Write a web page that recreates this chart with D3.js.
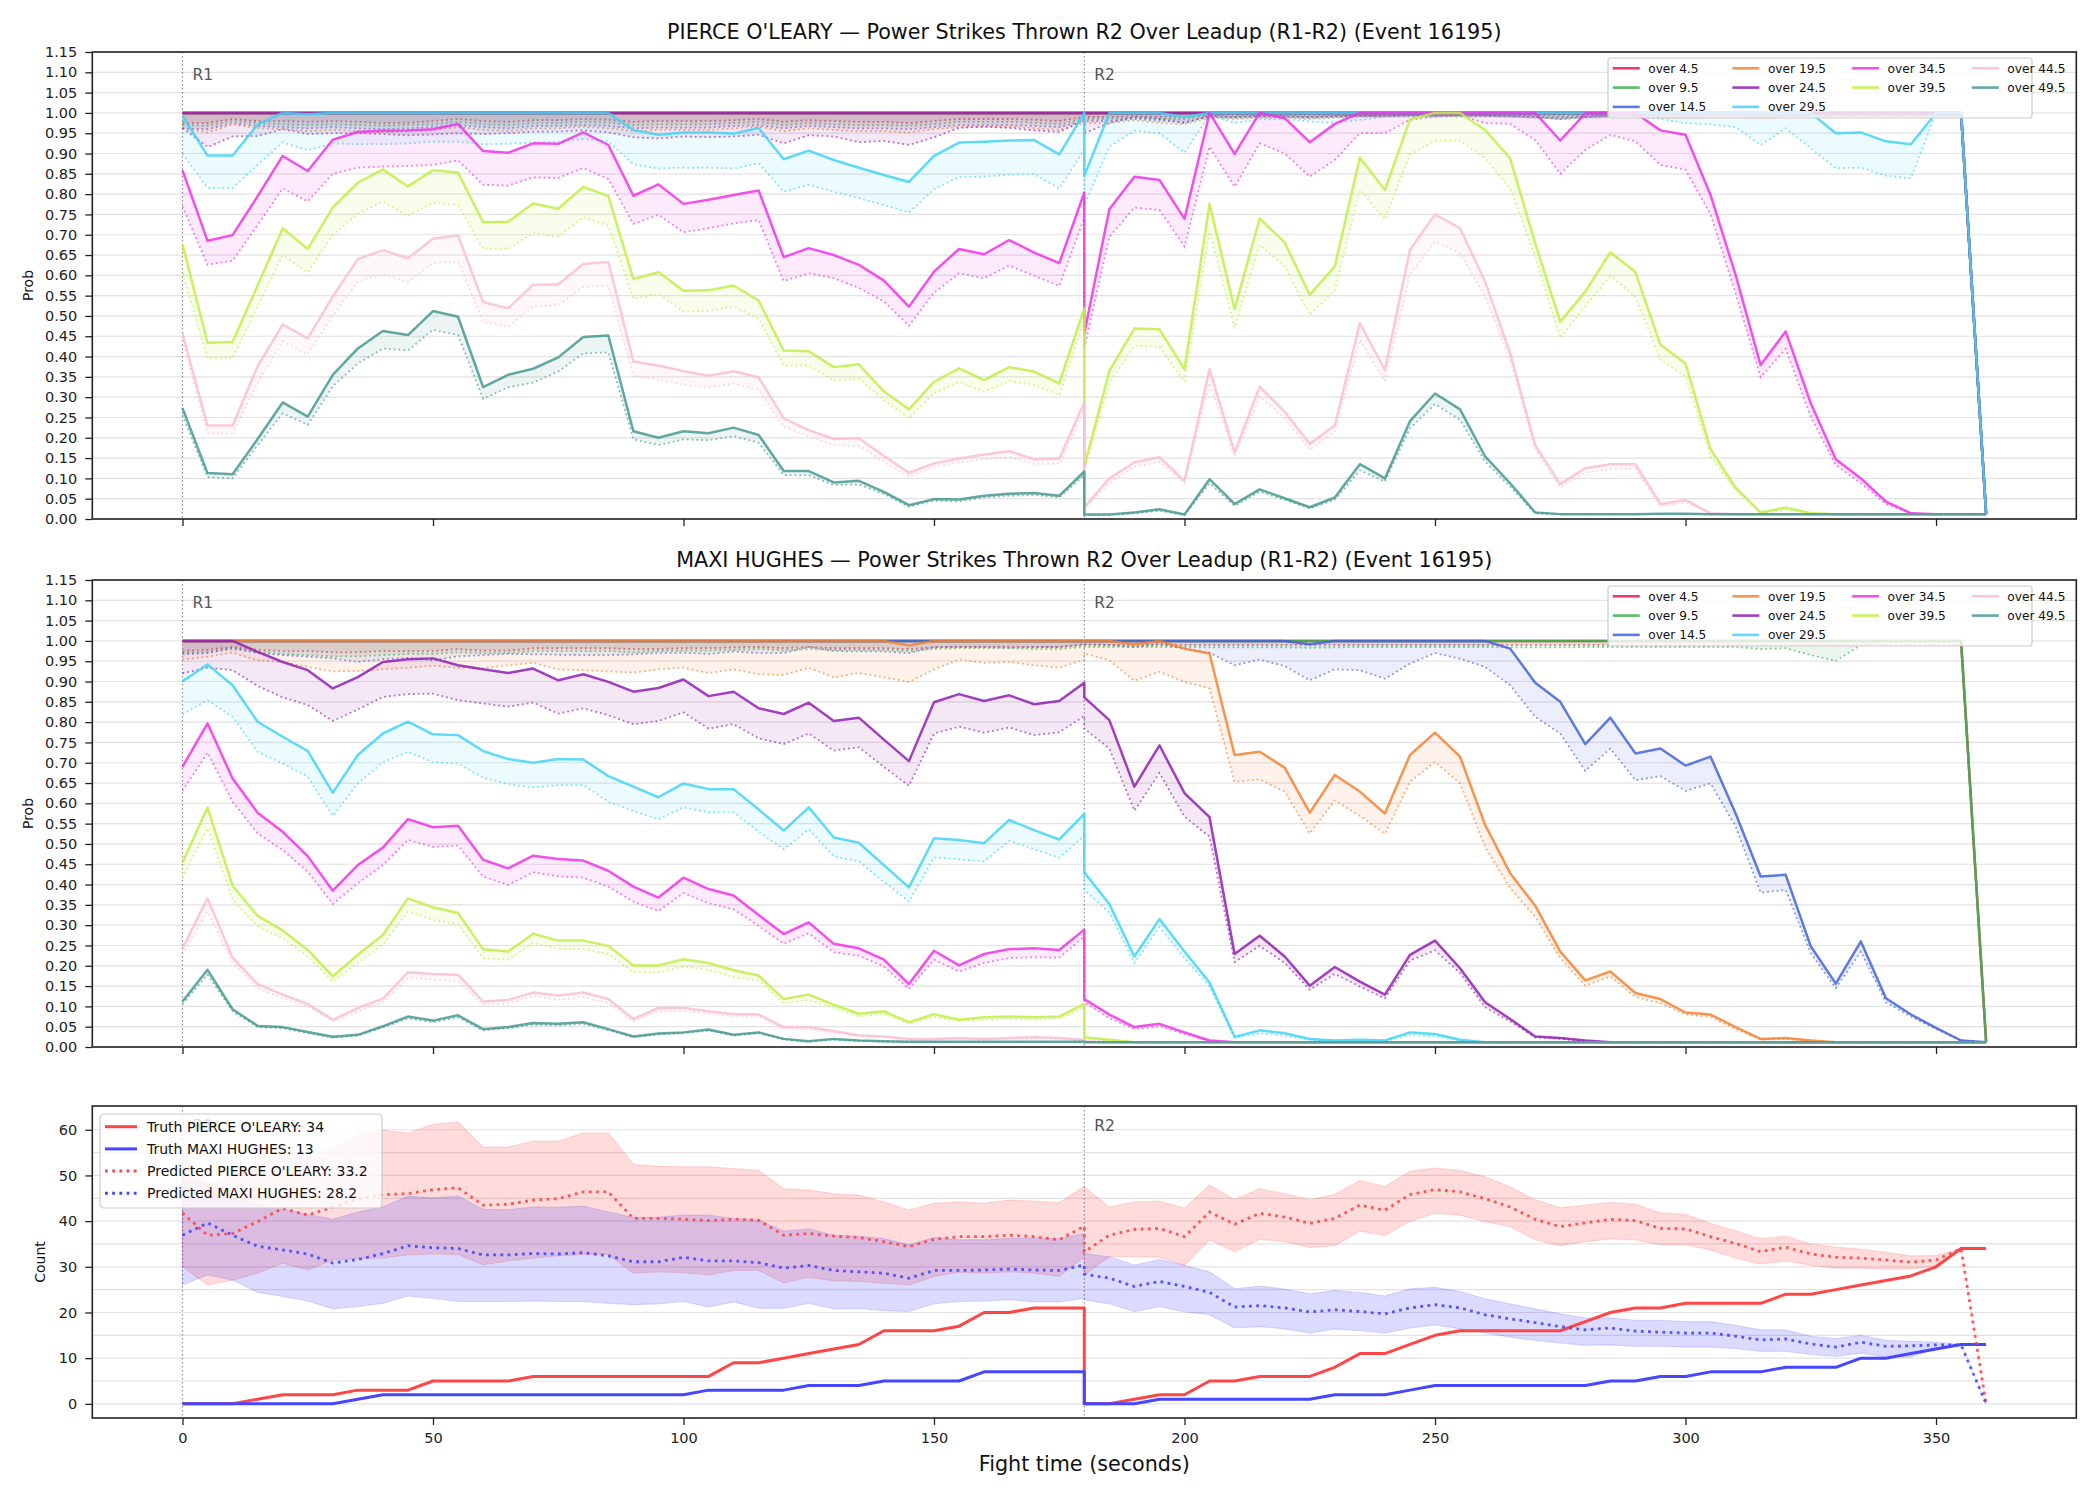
<!DOCTYPE html>
<html>
<head>
<meta charset="utf-8">
<script src="https://cdn.jsdelivr.net/npm/d3@7"></script>
<style>
  body { margin: 0; background: #fff; }
  svg { font-family: 'DejaVu Sans', sans-serif; }
</style>
</head>
<body>
<div id="chart"></div>
<script>
// time grid: R1 0..180 then R2 180..360, 5 s steps (180 appears twice)
const timesR1 = d3.range(0, 185, 5)
const timesR2 = d3.range(180, 365, 5)
const times = timesR1.concat(timesR2)

const thresholds = ['over 4.5', 'over 9.5', 'over 14.5', 'over 19.5', 'over 24.5',
  'over 29.5', 'over 34.5', 'over 39.5', 'over 44.5', 'over 49.5']
const seriesColors = ['#e6194b', '#3cb44b', '#4363d8', '#f58231', '#911eb4',
  '#42d4f4', '#f032e6', '#bfef45', '#fabed4', '#469990']

const probTicks = [0, 0.05, 0.1, 0.15, 0.2, 0.25, 0.3, 0.35, 0.4, 0.45, 0.5, 0.55,
  0.6, 0.65, 0.7, 0.75, 0.8, 0.85, 0.9, 0.95, 1, 1.05, 1.1, 1.15]
const timeTicks = [0, 50, 100, 150, 200, 250, 300, 350]
const countTicks = [0, 10, 20, 30, 40, 50, 60]
const countGrid = [0, 5, 10, 15, 20, 25, 30, 35, 40, 45, 50, 55, 60]

// ---------- PIERCE O'LEARY : truth-path probabilities (solid) ----------
const pOver4 = [1,1,1,1,1, 1,1,1,1,1, 1,1,1,1,1, 1,1,1,1,1, 1,1,1,1,1, 1,1,1,1,1, 1,1,1,1,1, 1,1,
  1,1,1,1,1, 1,1,1,1,1, 1,1,1,1,1, 1,1,1,1,1, 1,1,1,1,1, 1,1,1,1,1, 1,1,1,1,1, 1,0.012]
const pOver9 = [1,1,1,1,1, 1,1,1,1,1, 1,1,1,1,1, 1,1,1,1,1, 1,1,1,1,1, 1,1,1,1,1, 1,1,1,1,1, 1,1,
  1,1,1,1,1, 1,1,1,1,1, 1,1,1,1,1, 1,1,1,1,1, 1,1,1,1,1, 1,1,1,1,1, 1,1,1,1,1, 1,0.012]
const pOver14 = [1,1,1,1,1, 1,1,1,1,1, 1,1,1,1,1, 1,1,1,1,1, 1,1,1,1,1, 1,1,1,1,1, 1,1,1,1,1, 1,1,
  1,1,1,1,1, 1,1,1,1,1, 1,1,1,1,1, 1,1,1,1,1, 1,1,1,1,1, 1,1,1,1,1, 1,1,1,1,1, 1,0.012]
const pOver19 = [1,1,1,1,1, 1,1,1,1,1, 1,1,1,1,1, 1,1,1,1,1, 1,1,1,1,1, 1,1,1,1,1, 1,1,1,1,1, 1,1,
  1,1,1,1,1, 1,1,1,1,1, 1,1,1,1,1, 1,1,1,1,1, 1,1,1,1,1, 1,1,1,1,1, 1,1,1,1,1, 1,0.012]
const pOver24 = [1,1,1,1,1, 1,1,1,1,1, 1,1,1,1,1, 1,1,1,1,1, 1,1,1,1,1, 1,1,1,1,1, 1,1,1,1,1, 1,1,
  1,1,1,1,1, 1,1,1,1,1, 1,1,1,1,1, 1,1,1,1,1, 1,1,1,1,1, 1,1,1,1,1, 1,1,1,1,1, 1,0.012]
const pOver29 = [0.993,0.895,0.895,0.971,1, 0.997,1,1,1,1, 1,1,1,1,1, 1,1,1,0.958,0.946, 0.952,0.952,0.949,0.963,0.886, 0.907,0.884,0.865,0.847,0.83, 0.894,0.927,0.929,0.932,0.933, 0.898,1,
  0.845,1,1,1,0.99, 1,1,1,1,1, 1,1,1,1,1, 1,1,1,1,1, 1,1,1,1,1, 1,1,1,1,1, 0.95,0.952,0.93,0.923,1, 1,0.012]
const pOver34 = [0.859,0.685,0.699,0.795,0.894, 0.857,0.934,0.953,0.956,0.957, 0.96,0.973,0.906,0.902,0.925, 0.924,0.952,0.921,0.796,0.824, 0.776,0.786,0.798,0.809,0.645, 0.667,0.65,0.626,0.587,0.523, 0.609,0.665,0.652,0.687,0.656, 0.63,0.804,
  0.457,0.763,0.843,0.835,0.739, 1,0.899,1,0.987,0.928, 0.973,1,1,1,1, 1,1,1,1,0.932, 0.999,1,1,0.957,0.946, 0.798,0.601,0.379,0.462,0.285, 0.147,0.1,0.043,0.014,0.012, 0.012,0.012]
const pOver39 = [0.677,0.434,0.436,0.575,0.716, 0.665,0.767,0.828,0.861,0.819, 0.859,0.853,0.731,0.732,0.777, 0.764,0.818,0.795,0.591,0.608, 0.562,0.563,0.575,0.538,0.415, 0.413,0.374,0.381,0.314,0.27, 0.338,0.371,0.342,0.374,0.363, 0.334,0.519,
  0.129,0.365,0.469,0.467,0.369, 0.776,0.517,0.74,0.681,0.552, 0.622,0.89,0.81,0.984,1, 1,0.958,0.888,0.679,0.486, 0.56,0.657,0.608,0.429,0.383, 0.172,0.077,0.016,0.028,0.014, 0.012,0.012,0.012,0.012,0.012, 0.012,0.012]
const pOver44 = [0.457,0.23,0.23,0.376,0.479, 0.445,0.548,0.64,0.662,0.642, 0.69,0.698,0.534,0.519,0.577, 0.578,0.628,0.633,0.388,0.378, 0.364,0.353,0.364,0.349,0.248, 0.219,0.197,0.199,0.155,0.114, 0.137,0.149,0.159,0.167,0.147, 0.149,0.287,
  0.029,0.1,0.139,0.152,0.094, 0.369,0.164,0.326,0.264,0.185, 0.23,0.482,0.367,0.663,0.75, 0.716,0.585,0.408,0.182,0.086, 0.125,0.135,0.135,0.037,0.047, 0.014,0.012,0.012,0.012,0.012, 0.012,0.012,0.012,0.012,0.012, 0.012,0.012]
const pOver49 = [0.273,0.113,0.11,0.197,0.287, 0.252,0.355,0.42,0.463,0.453, 0.512,0.498,0.325,0.355,0.37, 0.398,0.448,0.452,0.216,0.2, 0.216,0.211,0.225,0.207,0.118, 0.118,0.09,0.094,0.067,0.034, 0.049,0.048,0.057,0.062,0.064, 0.057,0.117,
  0.011,0.011,0.016,0.024,0.011, 0.098,0.037,0.073,0.051,0.029, 0.053,0.135,0.1,0.241,0.309, 0.27,0.154,0.088,0.016,0.012, 0.012,0.012,0.012,0.013,0.013, 0.012,0.012,0.012,0.012,0.012, 0.012,0.012,0.012,0.012,0.012, 0.012,0.012]

// ---------- PIERCE O'LEARY : predicted probabilities (dotted) ----------
const pPred4 = [0.975,0.975,0.985,0.98,0.98, 0.978,0.98,0.978,0.975,0.976, 0.98,0.985,0.98,0.978,0.982, 0.982,0.985,0.983,0.978,0.98, 0.98,0.98,0.982,0.985,0.978, 0.982,0.98,0.978,0.978,0.975, 0.98,0.985,0.985,0.985,0.983, 0.98,0.99,
  0.99,0.99,0.992,0.99,0.99, 0.995,0.995,0.995,0.995,0.995, 0.995,0.995,0.995,0.995,0.995, 0.995,0.995,0.995,0.995,0.995, 0.995,0.995,0.995,0.995,0.995, 0.995,0.995,0.995,0.995,0.995, 0.995,0.995,0.995,0.995,0.995, 0.995,0.012]
const pPred9 = [0.97,0.968,0.98,0.975,0.972, 0.97,0.972,0.97,0.968,0.97, 0.972,0.978,0.972,0.97,0.975, 0.975,0.978,0.976,0.97,0.972, 0.972,0.972,0.975,0.978,0.97, 0.975,0.972,0.97,0.97,0.968, 0.972,0.978,0.978,0.978,0.976, 0.972,0.985,
  0.985,0.985,0.988,0.985,0.985, 0.992,0.99,0.992,0.992,0.99, 0.992,0.993,0.993,0.994,0.994, 0.994,0.994,0.993,0.992,0.99, 0.992,0.993,0.993,0.992,0.992, 0.993,0.993,0.992,0.993,0.993, 0.993,0.993,0.993,0.993,0.994, 0.994,0.012]
const pPred14 = [0.962,0.96,0.975,0.968,0.965, 0.962,0.965,0.962,0.96,0.962, 0.965,0.97,0.965,0.962,0.968, 0.968,0.97,0.968,0.962,0.964, 0.964,0.964,0.968,0.97,0.962, 0.968,0.965,0.962,0.962,0.96, 0.965,0.97,0.97,0.97,0.968, 0.965,0.98,
  0.98,0.98,0.985,0.98,0.978, 0.99,0.988,0.99,0.99,0.988, 0.99,0.992,0.992,0.993,0.993, 0.993,0.993,0.992,0.99,0.988, 0.99,0.992,0.992,0.99,0.99, 0.992,0.992,0.99,0.992,0.992, 0.992,0.992,0.992,0.992,0.993, 0.993,0.012]
const pPred19 = [0.962,0.952,0.972,0.962,0.96, 0.955,0.958,0.955,0.952,0.955, 0.958,0.965,0.958,0.955,0.962, 0.962,0.966,0.962,0.955,0.958, 0.958,0.958,0.962,0.966,0.955, 0.962,0.958,0.955,0.955,0.952, 0.96,0.965,0.966,0.966,0.962, 0.958,0.975,
  0.975,0.975,0.982,0.975,0.972, 0.988,0.985,0.988,0.988,0.985, 0.988,0.99,0.99,0.992,0.992, 0.992,0.992,0.99,0.988,0.985, 0.988,0.99,0.99,0.988,0.988, 0.99,0.99,0.988,0.99,0.99, 0.99,0.99,0.99,0.99,0.992, 0.992,0.012]
const pPred24 = [0.963,0.916,0.942,0.943,0.96, 0.948,0.95,0.95,0.948,0.945, 0.947,0.95,0.948,0.95,0.954, 0.954,0.957,0.952,0.94,0.937, 0.942,0.94,0.942,0.946,0.925, 0.945,0.942,0.928,0.931,0.921, 0.94,0.963,0.966,0.963,0.957, 0.953,0.983,
  0.95,0.975,0.99,0.985,0.975, 0.993,0.99,0.993,0.992,0.99, 0.992,0.993,0.993,0.994,0.994, 0.994,0.993,0.992,0.99,0.985, 0.99,0.992,0.992,0.99,0.99, 0.99,0.99,0.99,0.992,0.992, 0.992,0.992,0.992,0.992,0.993, 0.993,0.012]
const pPred29 = [0.9,0.815,0.815,0.872,0.927, 0.908,0.925,0.923,0.923,0.925, 0.929,0.929,0.923,0.924,0.927, 0.929,0.936,0.93,0.873,0.863, 0.865,0.865,0.863,0.876,0.806, 0.823,0.806,0.79,0.773,0.755, 0.812,0.842,0.843,0.848,0.849, 0.814,0.909,
  0.773,0.917,0.956,0.95,0.902, 0.995,0.975,0.984,0.984,0.979, 0.975,0.983,0.99,0.99,0.99, 0.99,0.99,0.99,0.988,0.985, 0.988,0.99,0.99,0.985,0.975, 0.972,0.965,0.921,0.962,0.913, 0.864,0.865,0.845,0.839,1, 1,0.012]
const pPred34 = [0.77,0.626,0.636,0.724,0.814, 0.782,0.85,0.865,0.868,0.869, 0.872,0.883,0.823,0.821,0.841, 0.84,0.864,0.837,0.727,0.749, 0.706,0.716,0.728,0.736,0.586, 0.605,0.593,0.569,0.536,0.476, 0.557,0.605,0.593,0.624,0.599, 0.574,0.741,
  0.42,0.695,0.767,0.761,0.671, 0.917,0.818,0.925,0.9,0.843, 0.884,0.95,0.95,0.983,0.99, 0.995,0.975,0.973,0.933,0.85, 0.909,0.946,0.93,0.872,0.86, 0.75,0.556,0.349,0.419,0.252, 0.133,0.088,0.037,0.014,0.012, 0.012,0.012]
const pPred39 = [0.605,0.396,0.396,0.523,0.649, 0.607,0.7,0.751,0.782,0.746, 0.779,0.773,0.665,0.665,0.705, 0.695,0.743,0.722,0.542,0.554, 0.511,0.512,0.523,0.493,0.378, 0.378,0.34,0.346,0.293,0.248, 0.31,0.338,0.313,0.34,0.33, 0.305,0.49,
  0.121,0.334,0.427,0.424,0.338, 0.708,0.471,0.675,0.622,0.502, 0.564,0.81,0.738,0.897,0.932, 0.932,0.888,0.814,0.646,0.445, 0.524,0.598,0.548,0.392,0.351, 0.154,0.071,0.014,0.022,0.014, 0.012,0.012,0.012,0.012,0.012, 0.012,0.012]
const pPred44 = [0.44,0.211,0.211,0.335,0.437, 0.406,0.499,0.585,0.602,0.584, 0.63,0.634,0.486,0.473,0.524, 0.526,0.571,0.575,0.352,0.343, 0.331,0.323,0.333,0.318,0.227, 0.203,0.182,0.18,0.141,0.104, 0.129,0.139,0.147,0.152,0.136, 0.136,0.268,
  0.026,0.088,0.129,0.14,0.088, 0.335,0.154,0.301,0.248,0.17, 0.215,0.441,0.339,0.602,0.684, 0.654,0.548,0.392,0.17,0.078, 0.114,0.123,0.123,0.032,0.04, 0.014,0.012,0.012,0.012,0.012, 0.012,0.012,0.012,0.012,0.012, 0.012,0.012]
const pPred49 = [0.256,0.103,0.1,0.182,0.26, 0.232,0.327,0.383,0.42,0.415, 0.466,0.453,0.296,0.324,0.336, 0.363,0.408,0.41,0.196,0.182, 0.196,0.194,0.204,0.188,0.108, 0.108,0.084,0.085,0.062,0.03, 0.045,0.043,0.053,0.057,0.059, 0.053,0.108,
  0.01,0.01,0.014,0.02,0.01, 0.088,0.032,0.067,0.047,0.026, 0.047,0.12,0.092,0.223,0.283, 0.244,0.141,0.08,0.014,0.012, 0.012,0.012,0.012,0.012,0.012, 0.012,0.012,0.012,0.012,0.012, 0.012,0.012,0.012,0.012,0.012, 0.012,0.012]

// ---------- MAXI HUGHES : truth-path probabilities (solid) ----------
const mOver4 = [1,1,1,1,1, 1,1,1,1,1, 1,1,1,1,1, 1,1,1,1,1, 1,1,1,1,1, 1,1,1,1,1, 1,1,1,1,1, 1,1,
  1,1,1,1,1, 1,1,1,1,1, 1,1,1,1,1, 1,1,1,1,1, 1,1,1,1,1, 1,1,1,1,1, 1,1,1,1,1, 1,0.012]
const mOver9 = [1,1,1,1,1, 1,1,1,1,1, 1,1,1,1,1, 1,1,1,1,1, 1,1,1,1,1, 1,1,1,1,1, 1,1,1,1,1, 1,1,
  1,1,1,1,1, 1,1,1,1,1, 1,1,1,1,1, 1,1,1,1,1, 1,1,1,1,1, 1,1,1,1,1, 1,1,1,1,1, 1,0.012]
const mOver14 = [1,1,1,1,1, 1,1,1,1,1, 1,1,1,1,1, 1,1,1,1,1, 1,1,1,1,1, 1,1,1,1,1, 1,1,1,1,1, 1,1,
  1,1,1,1,1, 1,1,1,1,0.992, 1,1,1,1,1, 1,1,0.981,0.897,0.85, 0.746,0.811,0.723,0.735,0.693, 0.715,0.575,0.42,0.424,0.248, 0.156,0.26,0.12,0.08,0.047, 0.016,0.012]
const mOver19 = [1,1,1,1,1, 1,1,1,1,1, 1,1,1,1,1, 1,1,1,1,1, 1,1,1,1,1, 1,1,1,1,0.989, 1,1,1,1,1, 1,1,
  1,1,0.992,1,0.981, 0.969,0.719,0.727,0.688,0.577, 0.67,0.629,0.575,0.719,0.774, 0.715,0.547,0.428,0.348,0.235, 0.164,0.186,0.133,0.118,0.085, 0.08,0.049,0.02,0.022,0.016, 0.012,0.012,0.012,0.012,0.012, 0.012,0.012]
const mOver24 = [1,1,1,0.973,0.948, 0.928,0.883,0.911,0.948,0.955, 0.957,0.94,0.93,0.921,0.932, 0.903,0.918,0.899,0.875,0.884, 0.905,0.864,0.875,0.834,0.82, 0.848,0.803,0.811,0.757,0.704, 0.849,0.869,0.852,0.866,0.844, 0.852,0.897,
  0.861,0.805,0.641,0.743,0.625, 0.566,0.229,0.274,0.223,0.151, 0.197,0.161,0.129,0.227,0.262, 0.194,0.11,0.069,0.026,0.022, 0.016,0.012,0.012,0.012,0.012, 0.012,0.012,0.012,0.012,0.012, 0.012,0.012,0.012,0.012,0.012, 0.012,0.012]
const mOver29 = [0.901,0.942,0.891,0.801,0.764, 0.729,0.626,0.719,0.772,0.801, 0.77,0.768,0.729,0.709,0.7, 0.709,0.708,0.667,0.641,0.615, 0.649,0.635,0.635,0.585,0.533, 0.59,0.516,0.503,0.448,0.393, 0.514,0.51,0.502,0.559,0.534, 0.511,0.574,
  0.43,0.352,0.223,0.315,0.235, 0.159,0.025,0.041,0.034,0.02, 0.016,0.018,0.016,0.036,0.032, 0.018,0.012,0.012,0.012,0.012, 0.012,0.012,0.012,0.012,0.012, 0.012,0.012,0.012,0.012,0.012, 0.012,0.012,0.012,0.012,0.012, 0.012,0.012]
const mOver34 = [0.69,0.797,0.661,0.577,0.53, 0.47,0.385,0.448,0.491,0.561, 0.541,0.545,0.461,0.44,0.471, 0.463,0.459,0.434,0.395,0.368, 0.417,0.389,0.373,0.325,0.278, 0.307,0.254,0.243,0.215,0.155, 0.237,0.201,0.229,0.241,0.243, 0.239,0.289,
  0.118,0.08,0.049,0.057,0.036, 0.016,0.012,0.012,0.012,0.012, 0.012,0.012,0.012,0.012,0.012, 0.012,0.012,0.012,0.012,0.012, 0.012,0.012,0.012,0.012,0.012, 0.012,0.012,0.012,0.012,0.012, 0.012,0.012,0.012,0.012,0.012, 0.012,0.012]
const mOver39 = [0.454,0.59,0.397,0.323,0.287, 0.239,0.174,0.227,0.276,0.366, 0.344,0.33,0.241,0.235,0.279, 0.262,0.262,0.249,0.201,0.201, 0.216,0.207,0.189,0.176,0.118, 0.129,0.104,0.082,0.088,0.061, 0.081,0.067,0.073,0.075,0.073, 0.075,0.106,
  0.024,0.018,0.012,0.012,0.012, 0.012,0.012,0.012,0.012,0.012, 0.012,0.012,0.012,0.012,0.012, 0.012,0.012,0.012,0.012,0.012, 0.012,0.012,0.012,0.012,0.012, 0.012,0.012,0.012,0.012,0.012, 0.012,0.012,0.012,0.012,0.012, 0.012,0.012]
const mOver44 = [0.243,0.366,0.22,0.155,0.129, 0.106,0.067,0.096,0.119,0.184, 0.18,0.178,0.112,0.116,0.134, 0.127,0.134,0.118,0.069,0.096, 0.096,0.088,0.081,0.08,0.049, 0.049,0.039,0.029,0.026,0.02, 0.02,0.022,0.02,0.022,0.024, 0.022,0.018,
  0.014,0.012,0.012,0.012,0.012, 0.012,0.012,0.012,0.012,0.012, 0.012,0.012,0.012,0.012,0.012, 0.012,0.012,0.012,0.012,0.012, 0.012,0.012,0.012,0.012,0.012, 0.012,0.012,0.012,0.012,0.012, 0.012,0.012,0.012,0.012,0.012, 0.012,0.012]
const mOver49 = [0.112,0.19,0.093,0.052,0.049, 0.037,0.025,0.03,0.051,0.075, 0.065,0.078,0.044,0.049,0.059, 0.057,0.061,0.044,0.026,0.033, 0.036,0.043,0.03,0.036,0.02, 0.014,0.02,0.016,0.014,0.013, 0.013,0.013,0.013,0.013,0.013, 0.013,0.013,
  0.012,0.012,0.012,0.012,0.012, 0.012,0.012,0.012,0.012,0.012, 0.012,0.012,0.012,0.012,0.012, 0.012,0.012,0.012,0.012,0.012, 0.012,0.012,0.012,0.012,0.012, 0.012,0.012,0.012,0.012,0.012, 0.012,0.012,0.012,0.012,0.012, 0.012,0.012]

// ---------- MAXI HUGHES : predicted probabilities (dotted) ----------
const mPred4 = [0.975,0.978,0.985,0.978,0.975, 0.975,0.972,0.972,0.975,0.975, 0.975,0.98,0.976,0.976,0.982, 0.982,0.982,0.982,0.98,0.98, 0.982,0.982,0.984,0.985,0.982, 0.985,0.982,0.982,0.982,0.98, 0.984,0.986,0.986,0.986,0.985, 0.985,0.99,
  0.99,0.99,0.99,0.99,0.99, 0.99,0.99,0.99,0.99,0.99, 0.99,0.99,0.99,0.99,0.99, 0.99,0.99,0.99,0.99,0.99, 0.99,0.99,0.99,0.99,0.99, 0.99,0.99,0.99,0.99,0.99, 0.99,0.99,0.99,0.99,0.99, 0.99,0.012]
const mPred9 = [0.97,0.972,0.98,0.972,0.968, 0.965,0.962,0.962,0.965,0.968, 0.968,0.972,0.97,0.97,0.975, 0.975,0.975,0.975,0.972,0.975, 0.976,0.976,0.978,0.98,0.976, 0.98,0.978,0.978,0.978,0.975, 0.98,0.982,0.982,0.982,0.98, 0.98,0.985,
  0.985,0.985,0.985,0.985,0.985, 0.984,0.984,0.984,0.984,0.983, 0.984,0.985,0.985,0.985,0.985, 0.985,0.985,0.984,0.984,0.984, 0.985,0.985,0.985,0.985,0.985, 0.985,0.985,0.98,0.982,0.965, 0.951,0.99,1,1,1, 1,0.012]
const mPred14 = [0.967,0.97,0.983,0.97,0.965, 0.961,0.957,0.948,0.955,0.958, 0.952,0.962,0.965,0.968,0.967, 0.966,0.965,0.965,0.967,0.97, 0.971,0.968,0.974,0.97,0.97, 0.985,0.975,0.974,0.974,0.97, 0.985,0.985,0.985,0.983,0.985, 0.985,0.993,
  0.992,0.99,0.985,0.993,0.98, 0.971,0.94,0.954,0.938,0.903, 0.93,0.928,0.907,0.944,0.97, 0.956,0.936,0.891,0.813,0.772, 0.68,0.735,0.657,0.667,0.631, 0.649,0.543,0.38,0.387,0.231, 0.145,0.235,0.11,0.075,0.044, 0.016,0.012]
const mPred19 = [0.954,0.961,0.971,0.952,0.948, 0.936,0.925,0.926,0.93,0.934, 0.939,0.934,0.933,0.94,0.946, 0.93,0.928,0.925,0.922,0.93, 0.934,0.921,0.93,0.918,0.916, 0.934,0.91,0.921,0.91,0.899, 0.93,0.954,0.946,0.948,0.94, 0.934,0.954,
  0.969,0.952,0.902,0.924,0.899, 0.883,0.653,0.659,0.629,0.526, 0.607,0.569,0.525,0.653,0.702, 0.649,0.493,0.391,0.321,0.219, 0.151,0.174,0.123,0.108,0.08, 0.074,0.044,0.018,0.02,0.014, 0.012,0.012,0.012,0.012,0.012, 0.012,0.012]
const mPred24 = [0.92,0.934,0.928,0.889,0.861, 0.842,0.803,0.831,0.862,0.869, 0.87,0.854,0.846,0.838,0.848, 0.821,0.834,0.817,0.795,0.803, 0.824,0.784,0.795,0.76,0.746, 0.772,0.73,0.738,0.69,0.643, 0.772,0.789,0.774,0.787,0.768, 0.775,0.815,
  0.784,0.735,0.582,0.675,0.567, 0.518,0.209,0.249,0.207,0.141, 0.18,0.149,0.12,0.213,0.238, 0.182,0.098,0.063,0.024,0.02, 0.014,0.012,0.012,0.012,0.012, 0.012,0.012,0.012,0.012,0.012, 0.012,0.012,0.012,0.012,0.012, 0.012,0.012]
const mPred29 = [0.819,0.854,0.813,0.727,0.698, 0.666,0.569,0.649,0.701,0.727, 0.701,0.698,0.663,0.647,0.639, 0.645,0.645,0.604,0.581,0.561, 0.59,0.578,0.578,0.53,0.487, 0.536,0.469,0.457,0.407,0.358, 0.467,0.462,0.457,0.508,0.487, 0.466,0.52,
  0.387,0.331,0.207,0.295,0.219, 0.149,0.022,0.034,0.028,0.018, 0.014,0.016,0.014,0.03,0.026, 0.016,0.012,0.012,0.012,0.012, 0.012,0.012,0.012,0.012,0.012, 0.012,0.012,0.012,0.012,0.012, 0.012,0.012,0.012,0.012,0.012, 0.012,0.012]
const mPred34 = [0.631,0.725,0.604,0.526,0.485, 0.432,0.352,0.403,0.448,0.51, 0.493,0.496,0.42,0.399,0.43, 0.42,0.417,0.395,0.358,0.335, 0.379,0.354,0.339,0.298,0.254, 0.28,0.233,0.225,0.198,0.143, 0.215,0.186,0.207,0.219,0.221, 0.22,0.272,
  0.11,0.071,0.044,0.051,0.032, 0.014,0.012,0.012,0.012,0.012, 0.012,0.012,0.012,0.012,0.012, 0.012,0.012,0.012,0.012,0.012, 0.012,0.012,0.012,0.012,0.012, 0.012,0.012,0.012,0.012,0.012, 0.012,0.012,0.012,0.012,0.012, 0.012,0.012]
const mPred39 = [0.416,0.539,0.362,0.297,0.268, 0.223,0.161,0.207,0.252,0.334, 0.313,0.303,0.219,0.215,0.256, 0.241,0.241,0.229,0.184,0.184, 0.198,0.189,0.172,0.164,0.108, 0.116,0.096,0.075,0.082,0.057, 0.074,0.063,0.067,0.069,0.067, 0.07,0.096,
  0.022,0.016,0.012,0.012,0.012, 0.012,0.012,0.012,0.012,0.012, 0.012,0.012,0.012,0.012,0.012, 0.012,0.012,0.012,0.012,0.012, 0.012,0.012,0.012,0.012,0.012, 0.012,0.012,0.012,0.012,0.012, 0.012,0.012,0.012,0.012,0.012, 0.012,0.012]
const mPred44 = [0.227,0.334,0.207,0.145,0.12, 0.1,0.063,0.088,0.11,0.17, 0.166,0.161,0.104,0.107,0.125, 0.116,0.123,0.108,0.063,0.088, 0.088,0.082,0.075,0.075,0.044, 0.044,0.035,0.026,0.024,0.018, 0.018,0.02,0.018,0.02,0.021, 0.02,0.016,
  0.013,0.012,0.012,0.012,0.012, 0.012,0.012,0.012,0.012,0.012, 0.012,0.012,0.012,0.012,0.012, 0.012,0.012,0.012,0.012,0.012, 0.012,0.012,0.012,0.012,0.012, 0.012,0.012,0.012,0.012,0.012, 0.012,0.012,0.012,0.012,0.012, 0.012,0.012]
const mPred49 = [0.106,0.178,0.088,0.049,0.046, 0.034,0.023,0.028,0.048,0.07, 0.061,0.073,0.041,0.046,0.055, 0.053,0.057,0.041,0.024,0.031, 0.034,0.04,0.028,0.034,0.018, 0.013,0.018,0.015,0.013,0.012, 0.012,0.012,0.012,0.012,0.012, 0.012,0.012,
  0.012,0.012,0.012,0.012,0.012, 0.012,0.012,0.012,0.012,0.012, 0.012,0.012,0.012,0.012,0.012, 0.012,0.012,0.012,0.012,0.012, 0.012,0.012,0.012,0.012,0.012, 0.012,0.012,0.012,0.012,0.012, 0.012,0.012,0.012,0.012,0.012, 0.012,0.012]

// ---------- counts (bottom panel) ----------
const truthPierce = [0,0,0,1,2, 2,2,3,3,3, 5,5,5,5,6, 6,6,6,6,6, 6,6,9,9,10, 11,12,13,16,16, 16,17,20,20,21, 21,21,
  0,0,1,2,2, 5,5,6,6,6, 8,11,11,13,15, 16,16,16,16,16, 18,20,21,21,22, 22,22,22,24,24, 25,26,27,28,30, 34,34]
const truthMaxi = [0,0,0,0,0, 0,0,1,2,2, 2,2,2,2,2, 2,2,2,2,2, 2,3,3,3,3, 4,4,4,5,5, 5,5,7,7,7, 7,7,
  0,0,0,1,1, 1,1,1,1,1, 2,2,2,3,4, 4,4,4,4,4, 4,5,5,6,6, 7,7,7,8,8, 8,10,10,11,12, 13,13]
const predPierce = [41.8,36.9,37.3,39.9,42.8, 41.3,43.1,44.9,45.8,46, 46.9,47.3,43.5,43.7,44.6, 44.9,46.4,46.4,40.6,40.6, 40.4,40.1,40.4,40.2,36.9, 37.3,36.7,36.4,35.5,34.4, 36,36.6,36.6,36.9,36.6, 35.9,38.9,
  33.3,36.9,38.2,38.4,36.6, 42,39.3,41.7,40.9,39.5, 40.6,43.5,42.4,45.8,46.9, 46.4,44.9,43.1,40.4,38.8, 39.6,40.4,40.1,38.4,38.3, 36.6,35.1,33.3,34.3,32.8, 32.1,31.9,31.5,31,31.5, 34,0]
const predPierceLo = [30,26,27.1,28.6,30.8, 29.3,31.5,31.8,31.9,32.6, 32.8,32.7,30.4,31.3,31.9, 32.4,32.7,32.7,28.6,28.9, 28.7,28.2,29.2,29.2,26.5, 27.7,26.9,26.8,26.4,26, 27.9,28.8,28.6,28.9,28.6, 27.9,32.2,
  28.2,32.2,32.2,32.1,30.3, 35.9,33.3,36,35.5,34.2, 34.6,37.8,36.9,39.9,41.7, 41.3,39.9,38.8,35.9,34.6, 35.5,36.1,35.9,34.8,34.8, 33.7,31.9,30.6,31.3,30.3, 29.7,29.7,29.5,29.5,30.2, 34,0]
const predPierceHi = [55,48,50,52,55, 54,56,59,59.9,59.3, 61.2,61.7,56.2,56.2,57.5, 57.5,59.3,59.3,52.4,52, 51.9,51.9,51.5,51.1,47.1, 46.8,46,45.7,44.2,42.4, 43.9,44.2,43.9,44.6,44.4, 44,47.6,
  47.5,43.1,44.2,44.4,42.8, 47.9,44.7,47.1,46,44.7, 45.8,48.9,47.6,50.9,51.6, 51.1,49.7,47.5,44.7,42.9, 43.5,44.1,43.7,41.8,41.5, 39.5,37.9,36.2,36.7,35, 34.3,33.9,33.2,32.4,32.5, 34,0]
const predMaxi = [36.9,39.6,36.9,34.5,33.7, 32.8,30.8,31.6,32.9,34.6, 34.2,34,32.6,32.6,32.9, 32.8,33.1,32.4,31.1,31.1, 32.1,31.3,31.3,30.9,29.7, 30.3,29.2,28.9,28.6,27.5, 29.2,29.2,29.3,29.5,29.3, 29.2,30.4,
  28.4,27.5,25.7,26.8,25.7, 24.4,21.2,21.5,21,20.1, 20.6,20.2,19.7,21,21.7, 21,19.5,18.6,17.8,16.9, 16.2,16.6,15.9,15.7,15.5, 15.5,14.8,14,14.2,13.1, 12.4,13.5,12.6,12.7,12.9, 12.9,0]
const predMaxiLo = [26,28.2,27.1,24.4,23.5, 22.5,20.8,21.3,22,23.6, 23.1,22.4,22.4,22.4,22.5, 22.4,22.4,22,21.7,21.9, 22.4,21.2,22.3,20.9,20.9, 22,20.8,20.9,20.4,20.2, 21.9,22.4,22.5,22.8,22.3, 22.3,23.1,
  22.8,21.9,20.2,21.3,20.1, 19.5,16.6,16.9,16.4,15.5, 16.4,16,15.5,16.6,17.3, 16.4,15.5,14.6,13.9,13.3, 12.8,12.9,12.6,12.6,12.4, 12.4,12.1,11.5,11.5,10.8, 10.4,11.1,10.3,10.2,12.2, 13,0]
const predMaxiHi = [49.5,48,45,43.5,42.5, 41.5,40.4,42,43.1,45.5, 45.1,45.5,42.6,42.5,43.1, 43,43.3,42,40.8,40.9, 41.3,41.3,40.6,40.2,37.8, 38.3,36.9,36.7,36.2,34.8, 36.4,35.9,35.9,36.2,36.2, 36.2,37.3,
  32.9,32.2,30.4,31.6,30.3, 28.9,25.2,25.8,25.1,24.1, 24.8,24.4,23.6,25.2,25.5, 24.6,23,21.9,20.8,19.7, 18.8,18.8,18.3,18.3,18, 18,17.2,16.2,16.2,14.8, 14.3,15,13.9,13.7,13.5, 13,0]
const predictedFinal = [33.2, 28.2]

// ---------- drawing ----------
const width = 2100
const height = 1500

const svg = d3.select('#chart').append('svg')
  .attr('width', width)
  .attr('height', height)

svg.append('rect').attr('width', width).attr('height', height).attr('fill', '#fff')

const x = d3.scaleLinear().domain([-18, 378]).range([92.3, 2076.3])
const plotLeft = x.range()[0]
const plotRight = x.range()[1]

const probPanels = [
  { name: "PIERCE O'LEARY", top: 52, bottom: 519,
    solid: [pOver4, pOver9, pOver14, pOver19, pOver24, pOver29, pOver34, pOver39, pOver44, pOver49],
    pred: [pPred4, pPred9, pPred14, pPred19, pPred24, pPred29, pPred34, pPred39, pPred44, pPred49] },
  { name: 'MAXI HUGHES', top: 580, bottom: 1047,
    solid: [mOver4, mOver9, mOver14, mOver19, mOver24, mOver29, mOver34, mOver39, mOver44, mOver49],
    pred: [mPred4, mPred9, mPred14, mPred19, mPred24, mPred29, mPred34, mPred39, mPred44, mPred49] }
]

probPanels.forEach(p => p.solid.concat(p.pred).forEach((s, i) => {
  if (s.length !== times.length) console.warn(p.name, i, s.length)
}))

function roundMarkers(g, y, top, bottom, labelValue, labels) {
  [0, 180].forEach((t, k) => {
    g.append('line')
      .attr('x1', x(t)).attr('x2', x(t))
      .attr('y1', top).attr('y2', bottom)
      .attr('stroke', '#555')
      .attr('stroke-opacity', 0.7)
      .attr('stroke-width', 1.1)
      .attr('stroke-dasharray', '1.4,2.6')
    if (labels[k]) {
      g.append('text')
        .attr('x', x(t + 2))
        .attr('y', y(labelValue))
        .attr('fill', '#555')
        .style('font-size', '15.5px')
        .text(labels[k])
    }
  })
}

function drawAxes(g, y, top, bottom, yTicks, fmt, showX) {
  g.append('g')
    .attr('transform', `translate(${plotLeft},0)`)
    .call(d3.axisLeft(y).tickValues(yTicks).tickFormat(fmt).tickSize(7).tickPadding(8))
    .call(a => a.select('.domain').remove())
    .call(a => a.selectAll('line').attr('stroke', '#222').attr('stroke-width', 1.3))
    .call(a => a.selectAll('text').attr('fill', '#222').style('font-size', '14.5px').style('font-family', 'DejaVu Sans'))

  g.append('g')
    .attr('transform', `translate(0,${bottom})`)
    .call(d3.axisBottom(x).tickValues(timeTicks).tickSize(7).tickPadding(8)
      .tickFormat(showX ? d3.format('d') : ''))
    .call(a => a.select('.domain').remove())
    .call(a => a.selectAll('line').attr('stroke', '#222').attr('stroke-width', 1.3))
    .call(a => a.selectAll('text').attr('fill', '#222').style('font-size', '14.5px').style('font-family', 'DejaVu Sans'))

  g.append('rect')
    .attr('x', plotLeft).attr('y', top)
    .attr('width', plotRight - plotLeft).attr('height', bottom - top)
    .attr('fill', 'none').attr('stroke', '#222').attr('stroke-width', 1.6)
}

function drawProbPanel(p) {
  const y = d3.scaleLinear().domain([0, 1.15]).range([p.bottom, p.top])
  const g = svg.append('g')

  g.selectAll('.grid')
    .data(probTicks)
    .enter()
    .append('line')
    .attr('x1', plotLeft).attr('x2', plotRight)
    .attr('y1', d => y(d)).attr('y2', d => y(d))
    .attr('stroke', '#e2e2e2').attr('stroke-width', 1.2)

  roundMarkers(g, y, p.top, p.bottom, 1.08, ['R1', 'R2'])

  thresholds.forEach((label, i) => {
    const rows = times.map((t, j) => ({ t: t, a: p.solid[i][j], b: p.pred[i][j] }))
    const color = seriesColors[i]

    g.append('path').datum(rows)
      .attr('d', d3.area().x(d => x(d.t)).y0(d => y(d.a)).y1(d => y(d.b)))
      .attr('fill', color).attr('fill-opacity', 0.1)

    g.append('path').datum(rows)
      .attr('d', d3.line().x(d => x(d.t)).y(d => y(d.a)))
      .attr('fill', 'none')
      .attr('stroke', color).attr('stroke-opacity', 0.85)
      .attr('stroke-width', 2.5).attr('stroke-linejoin', 'round')

    g.append('path').datum(rows)
      .attr('d', d3.line().x(d => x(d.t)).y(d => y(d.b)))
      .attr('fill', 'none')
      .attr('stroke', color).attr('stroke-opacity', 0.65)
      .attr('stroke-width', 1.8).attr('stroke-dasharray', '1.8,3')
  })

  drawAxes(g, y, p.top, p.bottom, probTicks, d3.format('.2f'), false)

  g.append('text')
    .attr('x', (plotLeft + plotRight) / 2)
    .attr('y', p.top - 13)
    .attr('text-anchor', 'middle')
    .attr('fill', '#111')
    .style('font-size', '20.7px')
    .text(`${p.name} \u2014 Power Strikes Thrown R2 Over Leadup (R1-R2) (Event 16195)`)

  g.append('text')
    .attr('transform', `translate(28,${(p.top + p.bottom) / 2}) rotate(-90)`)
    .attr('text-anchor', 'middle')
    .attr('dy', '0.35em')
    .attr('fill', '#111')
    .style('font-size', '14px')
    .text('Prob')

  // legend, 4 columns filled column by column
  const lg = g.append('g').attr('transform', `translate(1608,${p.top + 6})`)
  lg.append('rect')
    .attr('width', 424).attr('height', 60).attr('rx', 3)
    .attr('fill', '#fff').attr('fill-opacity', 0.8)
    .attr('stroke', '#ccc').attr('stroke-width', 1.2)
  const colSizes = [3, 3, 2, 2]
  let idx = 0
  colSizes.forEach((n, c) => {
    for (let r = 0; r < n; r++) {
      const cy = 10.3 + r * 19.3
      const cx = 4.7 + c * 119.7
      lg.append('line')
        .attr('x1', cx).attr('x2', cx + 27)
        .attr('y1', cy).attr('y2', cy)
        .attr('stroke', seriesColors[idx]).attr('stroke-opacity', 0.85)
        .attr('stroke-width', 2.6)
      lg.append('text')
        .attr('x', cx + 35.5).attr('y', cy)
        .attr('dy', '0.35em')
        .attr('fill', '#111')
        .style('font-size', '12.2px')
        .text(thresholds[idx])
      idx++
    }
  })
}

probPanels.forEach(drawProbPanel)

// ---------- bottom panel: counts ----------
const cTop = 1106
const cBottom = 1418
const yc = d3.scaleLinear().domain([-3.1, 65.2]).range([cBottom, cTop])
const gc = svg.append('g')

gc.selectAll('.grid')
  .data(countGrid)
  .enter()
  .append('line')
  .attr('x1', plotLeft).attr('x2', plotRight)
  .attr('y1', d => yc(d)).attr('y2', d => yc(d))
  .attr('stroke', '#e2e2e2').attr('stroke-width', 1.2)

roundMarkers(gc, yc, cTop, cBottom, 59.8, ['R1', 'R2'])

const fighters = [
  { name: "PIERCE O'LEARY", color: 'rgb(255,70,70)', fill: '#ff0000',
    truth: truthPierce, pred: predPierce, lo: predPierceLo, hi: predPierceHi },
  { name: 'MAXI HUGHES', color: 'rgb(70,70,255)', fill: '#0000ff',
    truth: truthMaxi, pred: predMaxi, lo: predMaxiLo, hi: predMaxiHi }
]

fighters.forEach(f => {
  const rows = times.map((t, j) => ({ t: t, lo: f.lo[j], hi: f.hi[j] }))
  gc.append('path').datum(rows)
    .attr('d', d3.area().x(d => x(d.t)).y0(d => yc(d.lo)).y1(d => yc(d.hi)))
    .attr('fill', f.fill).attr('fill-opacity', 0.14)
    .attr('stroke', f.fill).attr('stroke-opacity', 0.12).attr('stroke-width', 1.2)
})

fighters.forEach(f => {
  gc.append('path').datum(times.map((t, j) => ({ t: t, v: f.truth[j] })))
    .attr('d', d3.line().x(d => x(d.t)).y(d => yc(d.v)))
    .attr('fill', 'none').attr('stroke', f.color)
    .attr('stroke-width', 3).attr('stroke-linejoin', 'round')
})

fighters.forEach(f => {
  gc.append('path').datum(times.map((t, j) => ({ t: t, v: f.pred[j] })))
    .attr('d', d3.line().x(d => x(d.t)).y(d => yc(d.v)))
    .attr('fill', 'none').attr('stroke', f.color).attr('stroke-opacity', 0.9)
    .attr('stroke-width', 2.8).attr('stroke-dasharray', '2.8,4.4')
})

drawAxes(gc, yc, cTop, cBottom, countTicks, d3.format('d'), true)

gc.append('text')
  .attr('transform', `translate(40,${(cTop + cBottom) / 2}) rotate(-90)`)
  .attr('text-anchor', 'middle')
  .attr('dy', '0.35em')
  .attr('fill', '#111')
  .style('font-size', '14px')
  .text('Count')

gc.append('text')
  .attr('x', (plotLeft + plotRight) / 2)
  .attr('y', 1471)
  .attr('text-anchor', 'middle')
  .attr('fill', '#111')
  .style('font-size', '20.7px')
  .text('Fight time (seconds)')

// legend of the count panel
const legendItems = [
  { label: `Truth ${fighters[0].name}: ${truthPierce[truthPierce.length - 1]}`, color: fighters[0].color, dash: null },
  { label: `Truth ${fighters[1].name}: ${truthMaxi[truthMaxi.length - 1]}`, color: fighters[1].color, dash: null },
  { label: `Predicted ${fighters[0].name}: ${predictedFinal[0]}`, color: fighters[0].color, dash: '2.8,4.4' },
  { label: `Predicted ${fighters[1].name}: ${predictedFinal[1]}`, color: fighters[1].color, dash: '2.8,4.4' }
]
const cl = gc.append('g').attr('transform', 'translate(100,1114)')
cl.append('rect')
  .attr('width', 282).attr('height', 94).attr('rx', 4)
  .attr('fill', '#fff').attr('fill-opacity', 0.8)
  .attr('stroke', '#ccc').attr('stroke-width', 1.2)
legendItems.forEach((d, i) => {
  const cy = 12.7 + i * 22.2
  cl.append('line')
    .attr('x1', 5).attr('x2', 37)
    .attr('y1', cy).attr('y2', cy)
    .attr('stroke', d.color).attr('stroke-width', 3)
    .attr('stroke-dasharray', d.dash)
  cl.append('text')
    .attr('x', 47).attr('y', cy)
    .attr('dy', '0.35em')
    .attr('fill', '#111')
    .style('font-size', '14px')
    .text(d.label)
})
</script>
</body>
</html>
